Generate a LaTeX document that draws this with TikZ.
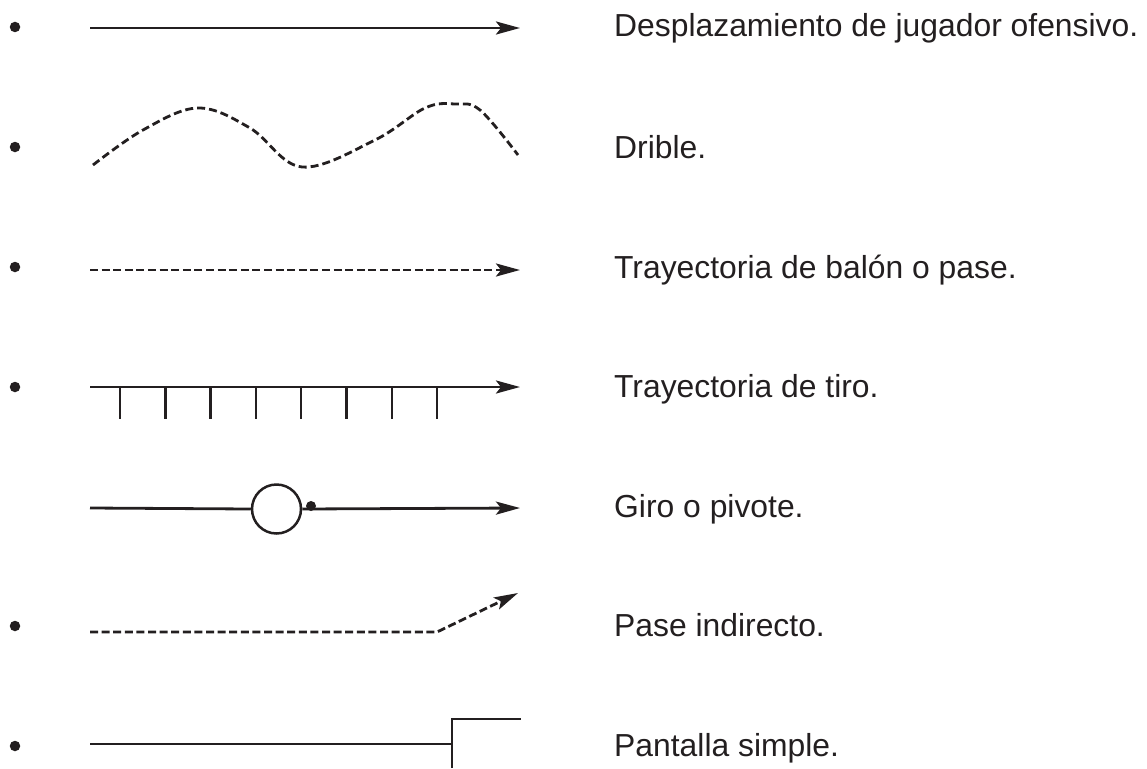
\documentclass[tikz,border=0pt]{standalone}
\usepackage{fontspec}
\setmainfont{Liberation Sans}
\usetikzlibrary{arrows.meta}
\definecolor{ink}{RGB}{35,31,32}
\tikzset{
  trazo/.style={line width=2.8pt, color=ink},
  punteado/.style={trazo, dash pattern=on 8pt off 3.6pt},
  flecha/.style={-{Stealth[length=24pt,width=13pt,inset=5pt]}},
  vineta/.style={circle, fill=ink, inner sep=0pt, minimum size=10.5pt},
  rotulo/.style={anchor=base west, inner sep=0pt, text=ink, font=\fontsize{31.85}{38}\selectfont},
}

\begin{document}
\begin{tikzpicture}[x=1pt, y=-1pt]
			%%%%% START %%%%%
			\useasboundingbox (0, 0) rectangle (1147, 768);
			
			% bullets
			\node[vineta] (v1) at (15, 27) {};
			\node[vineta] (v2) at (15, 147) {};
			\node[vineta] (v3) at (15, 267) {};
			\node[vineta] (v4) at (15, 387) {};
			\node[vineta] (v6) at (15, 626) {};
			\node[vineta] (v7) at (15, 746) {};
			
			% desplazamiento
			\coordinate (s1) at (90, 28);
			\coordinate (e1) at (520, 28);
			\draw[trazo, flecha] (s1) -- (e1);
			
			% drible
			\draw[punteado, dash pattern=on 8pt off 4pt] plot[smooth, tension=0.6] coordinates {(93, 165) (143, 130) (198, 108) (250, 128) (302, 167) (375, 140) (425, 108) (455, 104) (480, 110) (518, 155)};
			
			% pase
			\coordinate (s3) at (90, 270);
			\coordinate (e3) at (520, 270);
			\draw[punteado, flecha] (s3) -- (e3);
			
			% tiro
			\coordinate (s4) at (90, 387);
			\coordinate (e4) at (520, 387);
			\draw[trazo, flecha] (s4) -- (e4);
			\foreach \i in {0,...,7}
				\draw[trazo, line width=2.5pt] (120 + 45.3*\i, 387) -- (120 + 45.3*\i, 419);
			
			% giro o pivote
			\coordinate (s5) at (90, 508);
			\coordinate (e5) at (520, 508);
			\node[circle, draw=ink, line width=2.5pt, inner sep=0pt, minimum size=49pt] (piv) at (276.5, 509) {};
			\draw[trazo] (s5) -- (piv.west);
			\draw[trazo, flecha] (piv.east) -- (e5);
			\node[vineta, minimum size=10pt] (giro) at (311, 506) {};
			
			% pase indirecto
			\coordinate (s6) at (90, 632);
			\coordinate (b6) at (437, 632);
			\coordinate (e6) at (518, 593);
			\draw[punteado, flecha] (s6) -- (b6) -- (e6);
			
			% pantalla
			\coordinate (s7) at (90, 744);
			\coordinate (p7) at (452, 744);
			\coordinate (pb) at (452, 768);
			\coordinate (pt) at (452, 719);
			\coordinate (pe) at (521, 719);
			\draw[trazo] (s7) -- (p7);
			\draw[trazo] (pb) -- (pt) -- (pe);
			
			% textos
			\node[rotulo] (t1) at (614, 37) {Desplazamiento de jugador ofensivo.};
			\node[rotulo] (t2) at (614, 158) {Drible.};
			\node[rotulo] (t3) at (614, 278) {Trayectoria de balón o pase.};
			\node[rotulo] (t4) at (614, 397) {Trayectoria de tiro.};
			\node[rotulo] (t5) at (614, 517) {Giro o pivote.};
			\node[rotulo] (t6) at (614, 636) {Pase indirecto.};
			\node[rotulo] (t7) at (614, 756) {Pantalla simple.};
			
			%%%%% END %%%%%
\end{tikzpicture}
\end{document}
